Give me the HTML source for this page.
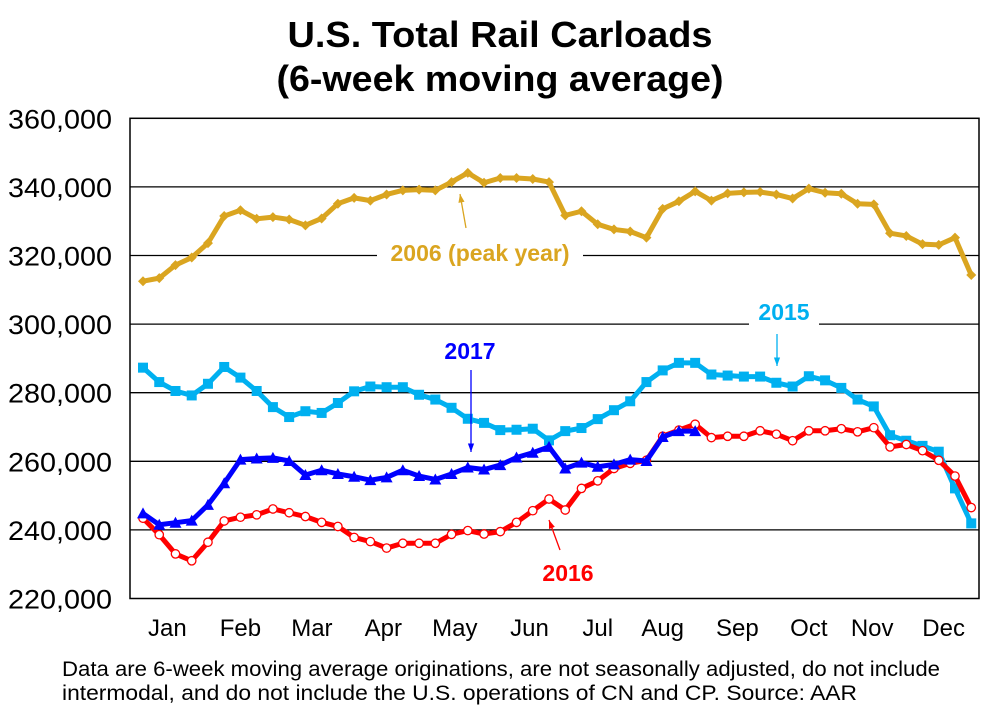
<!DOCTYPE html>
<html><head><meta charset="utf-8"><style>
body{margin:0;background:#fff;}
svg{display:block;font-family:"Liberation Sans",Arial,sans-serif;}
</style></head><body>
<svg id="chart" width="999" height="713" viewBox="0 0 999 713" xmlns="http://www.w3.org/2000/svg">
<text x="500" y="47" text-anchor="middle" font-size="36" font-weight="bold" textLength="425" lengthAdjust="spacingAndGlyphs">U.S. Total Rail Carloads</text>
<text x="500" y="91" text-anchor="middle" font-size="36" font-weight="bold" textLength="447" lengthAdjust="spacingAndGlyphs">(6-week moving average)</text>
<g id="grid"></g>
<g id="yticks"></g>
<g id="xticks"></g>
<g id="series"></g>
<g id="annot"></g>
<rect x="130" y="118.3" width="849" height="480.2" fill="none" stroke="#000" stroke-width="1.5"/>
<text x="62" y="676" font-size="21" textLength="878" lengthAdjust="spacingAndGlyphs">Data are 6-week moving average originations, are not seasonally adjusted, do not include</text>
<text x="62" y="700" font-size="21" textLength="795" lengthAdjust="spacingAndGlyphs">intermodal, and do not include the U.S. operations of CN and CP.   Source: AAR</text>
</svg>
<script>
const yTicks=[220000,240000,260000,280000,300000,320000,340000,360000];
const months=["Jan","Feb","Mar","Apr","May","Jun","Jul","Aug","Sep","Oct","Nov","Dec"];
const monthWeek=[1.5,6,10.4,14.8,19.2,23.8,28,32,36.6,41,44.9,49.3];
const s2006=[312.5,313.4,317.2,319.4,323.6,331.5,333.2,330.7,331.2,330.5,328.8,330.8,335.1,336.8,336.0,337.8,339.0,339.2,339.0,341.4,344.1,341.2,342.6,342.6,342.3,341.4,331.7,332.9,329.1,327.6,327.0,325.2,333.6,335.8,338.7,336.0,338.1,338.4,338.5,337.8,336.6,339.5,338.3,338.0,335.1,334.9,326.5,325.7,323.3,323.1,325.2,314.3];
const s2015=[287.3,283.1,280.5,279.2,282.6,287.5,284.4,280.5,275.8,272.9,274.6,274.1,277.0,280.4,281.8,281.6,281.6,279.4,278.0,275.6,272.4,271.2,269.1,269.2,269.5,266.1,268.8,269.7,272.3,274.9,277.5,283.1,286.5,288.7,288.7,285.3,285.0,284.7,284.7,282.9,281.8,284.8,283.6,281.4,278.0,276.0,267.6,266.0,264.5,262.8,252.1,241.9];
const s2016=[243.4,238.6,233.0,231.0,236.4,242.6,243.7,244.4,246.1,245.0,243.9,242.2,241.0,237.8,236.6,234.7,236.1,236.1,236.1,238.7,239.8,238.8,239.5,242.2,245.6,249.0,245.8,252.1,254.3,257.9,259.4,260.3,267.3,269.1,270.8,266.9,267.3,267.3,268.9,267.9,266.0,268.9,268.9,269.5,268.6,269.8,264.2,264.9,263.1,260.3,255.7,246.5];
const s2017=[244.8,241.5,242.1,242.7,247.3,253.6,260.5,260.8,261.0,260.1,256.0,257.4,256.3,255.5,254.5,255.3,257.4,255.7,254.7,256.3,258.2,257.6,258.9,261.1,262.5,264.2,257.9,259.6,258.4,259.1,260.5,260.1,267.1,268.8,268.8];
const NS="http://www.w3.org/2000/svg";
const X=i=>143+i*16.24;
const Y=v=>118.3+(360000-v)/20000*68.6;
const Yk=v=>Y(v*1000);
function mk(t,a,p){const e=document.createElementNS(NS,t);for(const k in a)e.setAttribute(k,a[k]);p.appendChild(e);return e;}
const grid=document.getElementById('grid'),yt=document.getElementById('yticks'),xt=document.getElementById('xticks'),ser=document.getElementById('series'),an=document.getElementById('annot');
yTicks.forEach(v=>{
  if(v>220000&&v<360000){const l=mk('line',{x1:130,x2:979,y1:Y(v),y2:Y(v),stroke:'#000','stroke-width':1.3},grid);
  
  }
  const t=mk('text',{x:112,y:Y(v)+10,'text-anchor':'end','font-size':27,textLength:104,lengthAdjust:'spacingAndGlyphs'},yt);
  
  
  t.textContent=v.toLocaleString('en-US');
});
months.forEach((m,i)=>{
  const t=mk('text',{x:X(monthWeek[i]),y:636,'text-anchor':'middle','font-size':24},xt);
  
  
  t.textContent=m;
});
function series(data,color,marker,name){
  const g=mk('g',{},ser);
  
  
  const pts=data.map((v,i)=>X(i)+','+Yk(v)).join(' ');
  mk('polyline',{points:pts,fill:'none',stroke:color,'stroke-width':5,'stroke-linejoin':'round'},g);
  data.forEach((v,i)=>{
    const x=X(i),y=Yk(v);let e;
    if(marker==='diamond')e=mk('polygon',{points:`${x},${y-5} ${x+5},${y} ${x},${y+5} ${x-5},${y}`,fill:color},g);
    else if(marker==='square')e=mk('rect',{x:x-5,y:y-5,width:10,height:10,fill:color},g);
    else if(marker==='tri')e=mk('polygon',{points:`${x},${y-6} ${x+6},${y+5} ${x-6},${y+5}`,fill:color},g);
    else e=mk('circle',{cx:x,cy:y,r:4.2,fill:'#fff',stroke:color,'stroke-width':1.3},g);
    
    
  });
}
series(s2006,'#DAA520','diamond','series-2006');
series(s2015,'#00B0F0','square','series-2015');
series(s2016,'#FF0000','circle','series-2016');
series(s2017,'#0000FF','tri','series-2017');
function label(txt,x,y,w,color,name){
  const r=mk('rect',{x:x-w/2-6,y:y-22,width:w+12,height:28,fill:'#fff'},an);
  
  
  const t=mk('text',{x:x,y:y,'text-anchor':'middle','font-size':23,'font-weight':'bold',fill:color},an);
  
  
  t.textContent=txt;
}
function arrow(x1,y1,x2,y2,color,name){
  const l=mk('line',{x1,y1,x2,y2,stroke:color,'stroke-width':1.3},an);
  
  
  const a=Math.atan2(y2-y1,x2-x1),s=9;
  const p=mk('polygon',{points:`${x2},${y2} ${x2-s*Math.cos(a-0.35)},${y2-s*Math.sin(a-0.35)} ${x2-s*Math.cos(a+0.35)},${y2-s*Math.sin(a+0.35)}`,fill:color},an);
  
  
}
label('2006 (peak year)',480,261,194,'#DAA520','label-2006');
arrow(466,228,460,194,'#DAA520','arrow-2006');
label('2015',784,320,58,'#00B0F0','label-2015');
arrow(777,334,777,366,'#00B0F0','arrow-2015');
label('2017',470,359,60,'#0000FF','label-2017');
arrow(471,370,471,452,'#0000FF','arrow-2017');
label('2016',568,581,60,'#FF0000','label-2016');
arrow(560,550,549,520,'#FF0000','arrow-2016');
</script>
</body></html>
